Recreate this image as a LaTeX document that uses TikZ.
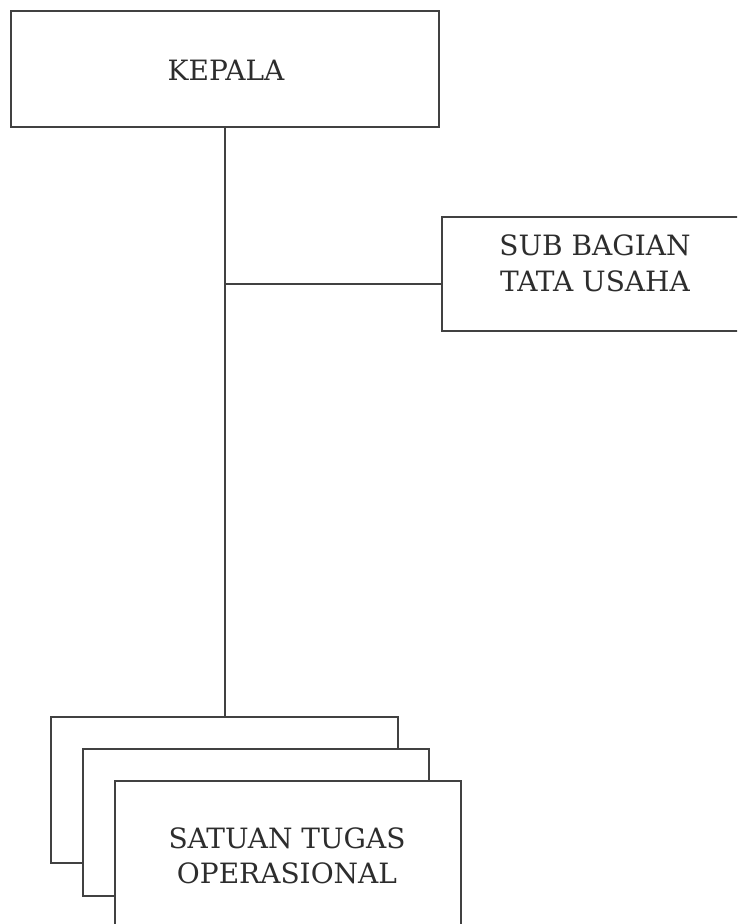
\documentclass[tikz,border=0pt]{standalone}
\usepackage{fontspec}
\setmainfont{DejaVu Serif}
\begin{document}
\begin{tikzpicture}[x=1pt,y=-1pt,
  box/.style={draw=linegray, line width=1.6pt, fill=white, rectangle, inner sep=0pt, anchor=north west},
  lbl/.style={font=\fontsize{28}{36}\selectfont, text=textgray, align=center, inner sep=0pt},
  conn/.style={draw=linegray, line width=1.6pt}]
\definecolor{linegray}{RGB}{65,65,65}
\definecolor{textgray}{RGB}{45,45,45}
\useasboundingbox (0,0) rectangle (737,924);
\clip (0,0) rectangle (737,924);
\node[box, minimum width=428pt, minimum height=116pt] (kepala) at (10,10) {};
\node[lbl] (kepalatext) at (226,70) {KEPALA};
\node[box, minimum width=300pt, minimum height=114pt] (sub) at (441,216) {};
\node[lbl] (subtext) at (595,263) {SUB BAGIAN\\TATA USAHA};
\node[box, minimum width=347pt, minimum height=146pt] (s1) at (50,716) {};
\node[box, minimum width=346pt, minimum height=147pt] (s2) at (82,748) {};
\node[box, minimum width=346pt, minimum height=160pt] (s3) at (114,780) {};
\node[lbl, font=\fontsize{28}{35}\selectfont] (stlabel) at (287,855.5) {SATUAN TUGAS\\OPERASIONAL};
\coordinate (j) at (225,284);
\draw[conn] (kepala.south -| j) -- (j);
\draw[conn] (j) -- (sub.west |- j);
\draw[conn] (j) -- (s1.north -| j);
\end{tikzpicture}
\end{document}
